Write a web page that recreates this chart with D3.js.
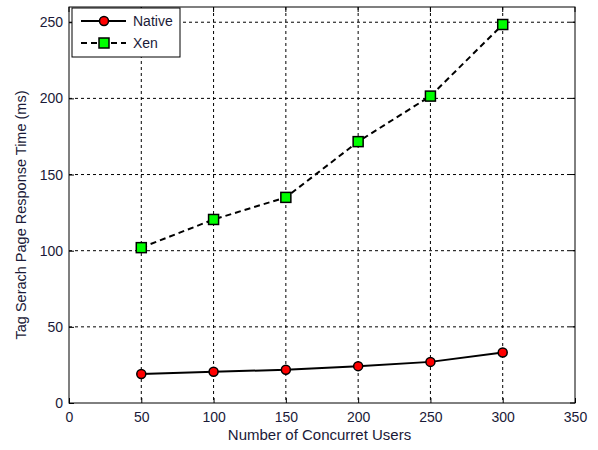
<!DOCTYPE html>
<html>
<head>
<meta charset="utf-8">
<script src="https://cdn.jsdelivr.net/npm/d3@7"></script>
<style>
  body { margin: 0; background: #fff; }
  svg text { font-family: Arial, "Liberation Sans", sans-serif; fill: #1a1a38; }
  .axis path, .axis line { stroke: #000; }
</style>
</head>
<body>
<div id="chart"></div>
<script>
var users = [50, 100, 150, 200, 250, 300];
var nativeTimes = [19, 20.5, 21.8, 24.2, 27, 33.2];
var xenTimes = [102, 120.5, 135, 171.6, 201.5, 248.5];
var xTicks = [0, 50, 100, 150, 200, 250, 300, 350];
var yTicks = [0, 50, 100, 150, 200, 250];

var margin = {top: 7, right: 23, bottom: 47, left: 69},
    width = 598 - margin.left - margin.right,
    height = 450 - margin.top - margin.bottom;

var svg = d3.select("#chart").append("svg")
    .attr("width", 598)
    .attr("height", 450);

var g = svg.append("g").attr("transform", "translate(" + margin.left + "," + margin.top + ")");

var x = d3.scaleLinear().domain([0, 350]).range([0, width]);
var y = d3.scaleLinear().domain([0, 260]).range([height, 0]);

// grid
g.append("g").selectAll("line")
  .data(xTicks.slice(1, -1))
  .enter().append("line")
    .attr("x1", d => x(d)).attr("x2", d => x(d))
    .attr("y1", 0).attr("y2", height)
    .attr("stroke", "#000").attr("stroke-width", 1)
    .attr("stroke-dasharray", "3,3");

g.append("g").selectAll("line")
  .data(yTicks.slice(1))
  .enter().append("line")
    .attr("x1", 0).attr("x2", width)
    .attr("y1", d => y(d)).attr("y2", d => y(d))
    .attr("stroke", "#000").attr("stroke-width", 1)
    .attr("stroke-dasharray", "3,3");

// box
g.append("rect")
  .attr("width", width).attr("height", height)
  .attr("fill", "none").attr("stroke", "#000");

// axes
g.append("g")
  .attr("class", "axis")
  .attr("transform", "translate(0," + height + ")")
  .call(d3.axisBottom(x).tickValues(xTicks).tickSize(-5).tickPadding(9))
  .call(a => a.select(".domain").remove())
  .selectAll("text").style("font-size", "14px").style("fill", "#1a1a38");

g.append("g")
  .attr("class", "axis")
  .call(d3.axisLeft(y).tickValues(yTicks).tickSize(-5).tickPadding(6))
  .call(a => a.select(".domain").remove())
  .selectAll("text").style("font-size", "14px").style("fill", "#1a1a38");

// mirrored ticks
g.append("g").selectAll("line")
  .data(yTicks)
  .enter().append("line")
    .attr("x1", width).attr("x2", width - 5)
    .attr("y1", d => y(d)).attr("y2", d => y(d))
    .attr("stroke", "#000");
g.append("g").selectAll("line")
  .data(xTicks)
  .enter().append("line")
    .attr("x1", d => x(d)).attr("x2", d => x(d))
    .attr("y1", 0).attr("y2", 5)
    .attr("stroke", "#000");

// labels
svg.append("text")
  .attr("x", 319.5)
  .attr("y", 440)
  .attr("text-anchor", "middle")
  .style("font-size", "15px")
  .text("Number of Concurret Users");

svg.append("text")
  .attr("transform", "translate(26,215) rotate(-90)")
  .attr("text-anchor", "middle")
  .style("font-size", "14.5px")
  .text("Tag Serach Page Response Time (ms)");

var line = d3.line()
  .x((d, i) => x(users[i]))
  .y(d => y(d));

g.append("path")
  .datum(nativeTimes)
  .attr("d", line)
  .attr("fill", "none").attr("stroke", "#000").attr("stroke-width", 2);

g.append("path")
  .datum(xenTimes)
  .attr("d", line)
  .attr("fill", "none").attr("stroke", "#000").attr("stroke-width", 2)
  .attr("stroke-dasharray", "6,4");

g.append("g").selectAll("circle")
  .data(nativeTimes)
  .enter().append("circle")
    .attr("cx", (d, i) => x(users[i]))
    .attr("cy", d => y(d))
    .attr("r", 4.5)
    .attr("fill", "#ff0000").attr("stroke", "#000").attr("stroke-width", 1.5);

g.append("g").selectAll("rect")
  .data(xenTimes)
  .enter().append("rect")
    .attr("x", (d, i) => x(users[i]) - 5)
    .attr("y", d => y(d) - 5)
    .attr("width", 10).attr("height", 10)
    .attr("fill", "#00ff00").attr("stroke", "#000").attr("stroke-width", 1.5);

// legend
var leg = svg.append("g").attr("transform", "translate(72,8)");
leg.append("rect")
  .attr("width", 108).attr("height", 49)
  .attr("fill", "#fff").attr("stroke", "#000");

leg.append("line")
  .attr("x1", 9).attr("x2", 54).attr("y1", 13).attr("y2", 13)
  .attr("stroke", "#000").attr("stroke-width", 2);
leg.append("circle")
  .attr("cx", 32).attr("cy", 13).attr("r", 4.5)
  .attr("fill", "#ff0000").attr("stroke", "#000").attr("stroke-width", 1.5);
leg.append("text").attr("x", 61).attr("y", 18)
  .style("font-size", "14px").text("Native");

leg.append("line")
  .attr("x1", 9).attr("x2", 54).attr("y1", 35).attr("y2", 35)
  .attr("stroke", "#000").attr("stroke-width", 2)
  .attr("stroke-dasharray", "6,4");
leg.append("rect")
  .attr("x", 27).attr("y", 30).attr("width", 10).attr("height", 10)
  .attr("fill", "#00ff00").attr("stroke", "#000").attr("stroke-width", 1.5);
leg.append("text").attr("x", 61).attr("y", 40)
  .style("font-size", "14px").text("Xen");
</script>
</body>
</html>
